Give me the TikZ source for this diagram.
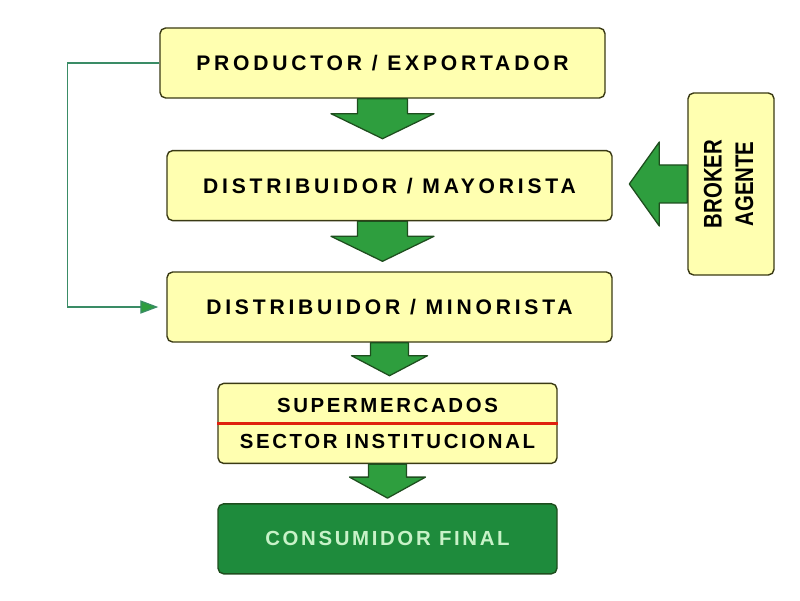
\documentclass[tikz,border=0pt]{standalone}
\usepackage{fontspec}
\usepackage{graphicx}
\usepackage{tikz}
\usetikzlibrary{arrows.meta,positioning,calc}
\usepackage{xcolor}

\newfontfamily\cajafont[LetterSpace=18]{Liberation Sans}
\newfontfamily\cajafontb[LetterSpace=13]{Liberation Sans}
\newfontfamily\brokerfont{Liberation Sans}

\definecolor{amarillo}{HTML}{FFFFB0}
\definecolor{borde}{HTML}{3A3A14}
\definecolor{verdeflecha}{HTML}{2E9E3E}
\definecolor{bordeflecha}{HTML}{1E4E1E}
\definecolor{verdeoscuro}{HTML}{1E8B3C}
\definecolor{textoverde}{HTML}{C8F2C8}
\definecolor{linearetorno}{HTML}{3A8C66}
\definecolor{rojo}{HTML}{E0200E}

% flecha gruesa: origen, medio fuste, media cabeza, largo fuste, largo cabeza, giro
\newcommand{\flechagruesa}[6]{%
  \draw[flecha, shift={(#1)}, rotate=#6] (0,0) ++({-#2},0) -- ++(0,{-#4})
    -- ++({-(#3-#2)},0) -- ++(#3,{-#5}) -- ++(#3,#5)
    -- ++({-(#3-#2)},0) -- ++(0,#4) -- cycle;}

\begin{document}
\begin{tikzpicture}[
        caja/.style={draw=borde, line width=1pt, fill=amarillo, rounded corners=4pt,
            minimum width=11.125cm, minimum height=1.75cm, align=center,
            font=\cajafont\bfseries\fontsize{15pt}{17pt}\selectfont},
        cajachica/.style={caja, minimum width=8.475cm,
            font=\cajafontb\bfseries\fontsize{14.5pt}{25.5pt}\selectfont},
        flecha/.style={draw=bordeflecha, line width=0.9pt, fill=verdeflecha, line join=round},
        retorno/.style={draw=linearetorno, line width=0.9pt,
            -{Triangle[length=4.5mm, width=3.3mm, fill=verdeflecha]}}
    ]
        \useasboundingbox (0,0) rectangle (20,15);

        % Cadena principal
        \node[caja] (productor) at (9.5625,13.425) {PRODUCTOR / EXPORTADOR};
        \node[caja, below=1.28cm of productor, xshift=0.175cm] (mayorista) {DISTRIBUIDOR / MAYORISTA};
        \node[caja, below=1.25cm of mayorista] (minorista) {DISTRIBUIDOR / MINORISTA};
        \node[cajachica, minimum height=2cm, below=1cm of minorista, xshift=-0.05cm] (super)
            {SUPERMERCADOS\\SECTOR INSTITUCIONAL};
        \node[cajachica, below=0.975cm of super, fill=verdeoscuro, draw=bordeflecha, text=textoverde] (consumidor)
            {CONSUMIDOR FINAL};

        % Broker
        \node[draw=borde, line width=1pt, fill=amarillo, rounded corners=4pt,
            minimum width=2.15cm, minimum height=4.55cm, inner sep=0pt] (broker) at (18.275,10.4)
            {\rotatebox{90}{\scalebox{1}[1.25]{\brokerfont\bfseries\fontsize{14.5pt}{18pt}\selectfont
                \begin{tabular}{@{}c@{}}BROKER\\AGENTE\end{tabular}}}};

        % Separador
        \draw[rojo, line width=2.2pt] (super.west) -- (super.east);

        % Flechas gruesas
        \flechagruesa{productor.south}{0.625}{1.2875}{0.375}{0.625}{0}
        \flechagruesa{productor.south |- mayorista.south}{0.625}{1.2875}{0.375}{0.625}{0}
        \flechagruesa{minorista.south}{0.475}{0.95}{0.325}{0.5}{0}
        \flechagruesa{super.south}{0.475}{0.95}{0.325}{0.525}{0}
        \flechagruesa{broker.west}{0.475}{1.05}{0.7}{0.75}{-90}

        % Retorno
        \coordinate (vuelta) at ($(productor.west)+(-2.3,0)$);
        \draw[retorno, shorten >=0.2cm] (productor.west) -- (vuelta) |- (minorista.west);
    \end{tikzpicture}
\end{document}
